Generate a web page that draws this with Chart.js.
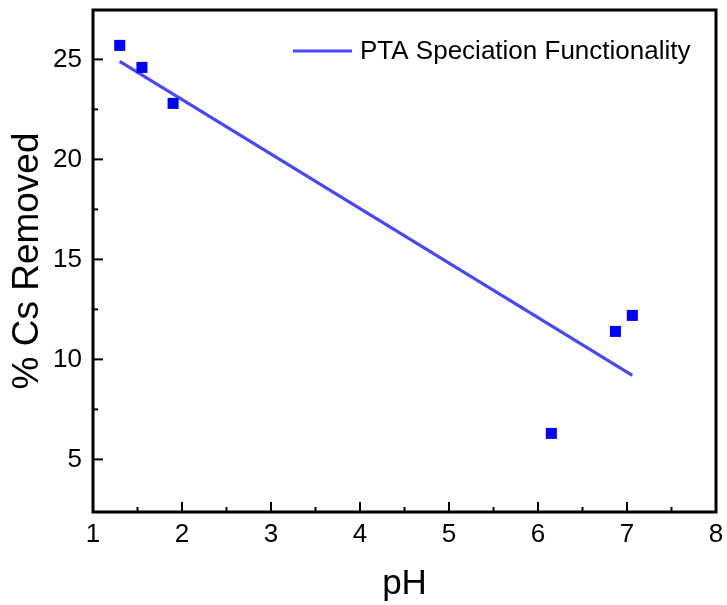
<!DOCTYPE html>
<html lang="en">
<head>
<meta charset="UTF-8">
<title>% Cs Removed vs pH</title>
<script src="https://cdn.jsdelivr.net/npm/chart.js"></script>
<style>
  body { margin: 0; background: #fff; }
  #wrap { width: 727px; height: 605px; }
</style>
</head>
<body>
<div id="wrap"><canvas id="chart"></canvas></div>
<script>
// measured points
const phValues = [1.3, 1.55, 1.9, 6.15, 6.87, 7.06];
const csRemoved = [25.7, 24.6, 22.8, 6.3, 11.4, 12.2];

// fitted line endpoints
const fitPh = [1.3, 7.06];
const fitCs = [24.9, 9.2];

const xTicks = [1, 2, 3, 4, 5, 6, 7, 8];
const yTicks = [5, 10, 15, 20, 25];
const xMinor = [1.5, 2.5, 3.5, 4.5, 5.5, 6.5, 7.5];
const yMinor = [7.5, 12.5, 17.5, 22.5];

const legendLabel = 'PTA Speciation Functionality';
const FONT = "'Liberation Sans', Arial, sans-serif";

// frame, inward ticks and the legend box drawn by hand
const framePlugin = {
  id: 'frame',
  afterDatasetsDraw(chart) {
    const ctx = chart.ctx;
    const a = chart.chartArea;
    const xs = chart.scales.x, ys = chart.scales.y;
    ctx.save();
    ctx.strokeStyle = '#000';
    ctx.lineWidth = 2;
    xTicks.forEach(v => {
      const px = xs.getPixelForValue(v);
      ctx.beginPath(); ctx.moveTo(px, a.bottom); ctx.lineTo(px, a.bottom - 10); ctx.stroke();
    });
    xMinor.forEach(v => {
      const px = xs.getPixelForValue(v);
      ctx.beginPath(); ctx.moveTo(px, a.bottom); ctx.lineTo(px, a.bottom - 5); ctx.stroke();
    });
    yTicks.forEach(v => {
      const py = ys.getPixelForValue(v);
      ctx.beginPath(); ctx.moveTo(a.left, py); ctx.lineTo(a.left + 10, py); ctx.stroke();
    });
    yMinor.forEach(v => {
      const py = ys.getPixelForValue(v);
      ctx.beginPath(); ctx.moveTo(a.left, py); ctx.lineTo(a.left + 5, py); ctx.stroke();
    });
    ctx.lineWidth = 3;
    ctx.strokeRect(a.left, a.top, a.right - a.left, a.bottom - a.top);

    // legend
    const ds = chart.data.datasets[1];
    ctx.strokeStyle = ds.borderColor;
    ctx.lineWidth = 3;
    ctx.beginPath(); ctx.moveTo(293, 51); ctx.lineTo(352, 51); ctx.stroke();
    ctx.fillStyle = '#000';
    ctx.font = '26px ' + FONT;
    ctx.textBaseline = 'middle';
    ctx.fillText(ds.label, 360, 52);
    ctx.restore();
  }
};

new Chart(document.getElementById('chart'), {
  type: 'scatter',
  data: {
    datasets: [
      {
        label: 'data',
        data: phValues.map((x, i) => ({ x: x, y: csRemoved[i] })),
        pointStyle: 'rect',
        pointRadius: 7.8,
        pointBorderWidth: 0,
        backgroundColor: '#0000ff',
        borderColor: '#0000ff'
      },
      {
        label: legendLabel,
        type: 'line',
        data: fitPh.map((x, i) => ({ x: x, y: fitCs[i] })),
        borderColor: '#4646ff',
        borderWidth: 3,
        pointRadius: 0,
        fill: false
      }
    ]
  },
  options: {
    responsive: true,
    maintainAspectRatio: false,
    animation: false,
    layout: { padding: { top: 10, right: 11, left: 0, bottom: 0 } },
    plugins: { legend: { display: false }, tooltip: { enabled: false } },
    scales: {
      x: {
        min: 1, max: 8,
        afterBuildTicks: s => { s.ticks = xTicks.map(v => ({ value: v })); },
        afterFit: s => { s.height = 93; s.paddingLeft = 0; s.paddingRight = 0; },
        grid: { display: false, drawTicks: false },
        border: { display: false },
        ticks: { color: '#000', padding: 7, maxRotation: 0, font: { family: FONT, size: 26 } },
        title: { display: true, text: 'pH', color: '#000', padding: 0,
                 font: { family: FONT, size: 35, lineHeight: 1.2 } }
      },
      y: {
        min: 2.37, max: 27.47,
        afterBuildTicks: s => { s.ticks = yTicks.map(v => ({ value: v })); },
        afterFit: s => { s.width = 93; s.paddingTop = 0; s.paddingBottom = 0; },
        grid: { display: false, drawTicks: false },
        border: { display: false },
        ticks: { color: '#000', padding: 11, font: { family: FONT, size: 26 } },
        title: { display: true, text: '% Cs Removed', color: '#000', padding: 0,
                 font: { family: FONT, size: 37, lineHeight: 1.5 } }
      }
    }
  },
  plugins: [framePlugin]
});
</script>
</body>
</html>
